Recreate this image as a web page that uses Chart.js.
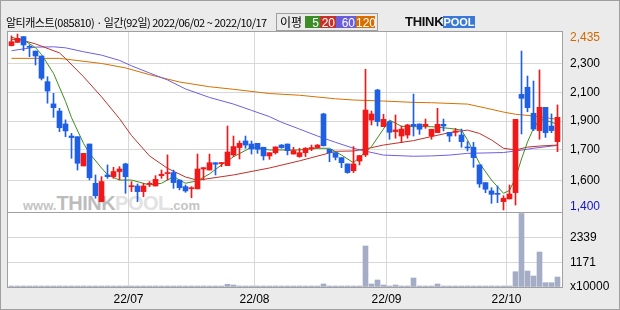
<!DOCTYPE html>
<html>
<head>
<meta charset="utf-8">
<script src="https://cdn.jsdelivr.net/npm/chart.js@4.4.0/dist/chart.umd.min.js"></script>
<style>
  body { margin: 0; background: #ebebeb; }
  #wrap { position: relative; width: 620px; height: 310px; background: #ebebeb; overflow: hidden; }
  #plotbg { position: absolute; left: 7px; top: 31px; width: 555px; height: 256px; background: #fff; }
  #wm { position: absolute; left: 23px; top: 192px; font-family: "Liberation Sans", sans-serif; font-weight: bold; white-space: nowrap; }
  #wm .s { font-size: 13px; color: #c4c4c4; }
  #wm .b1 { font-size: 20px; color: #bcbcbc; letter-spacing: -0.5px; }
  #wm .b2 { font-size: 20px; color: #e2e2e2; letter-spacing: -0.5px; }
  #c { position: absolute; left: 0; top: 0; }
  #title { position: absolute; left: 6px; top: 14px; line-height: 16px; font-size: 11px; letter-spacing: -0.5px;
           font-family: "Noto Sans CJK KR", sans-serif; color: #000; white-space: nowrap; }
  #mabox { position: absolute; left: 276px; top: 13px; width: 102px; height: 18px; box-sizing: border-box;
           border: 1px solid #9f9f9f; font-family: "Noto Sans CJK KR", sans-serif; }
  #mabox .lbl { position: absolute; left: 3px; top: 0; line-height: 16px; font-size: 12px; }
  #mabox .k { position: absolute; top: 2px; height: 12px; line-height: 12px; color: #fff; text-align: right;
              font: 12px "Liberation Sans", sans-serif; padding-right: 1px; box-sizing: border-box; }
  #logo { position: absolute; left: 405px; top: 14px; height: 15px; font-family: "Liberation Sans", sans-serif; font-weight: bold; }
  #logo .t { position: absolute; left: 0; top: 1px; font-size: 13px; line-height: 14px; color: #111; letter-spacing: -0.3px; }
  #logo .p { position: absolute; left: 38px; top: 2px; width: 32px; height: 12px; line-height: 12px; font-size: 11px;
             color: #fff; background: #3a78d8; text-align: center; }
  #frame { position: absolute; left: 0; top: 0; width: 620px; height: 310px; box-sizing: border-box; border: 1px solid #a0a0a0; pointer-events: none; }
</style>
</head>
<body>
<div id="wrap">
  <div id="plotbg"></div>
  <div id="wm"><span class="s">www.</span><span class="b1">THINK</span><span class="b2">POOL</span><span class="s">.com</span></div>
  <canvas id="c" width="620" height="310"></canvas>
  <div id="title">알티캐스트(085810) · 일간(92일) 2022/06/02 ~ 2022/10/17</div>
  <div id="mabox">
    <span class="lbl">이평</span>
    <span class="k" style="left:28px;width:15px;background:#3c8c28">5</span>
    <span class="k" style="left:43px;width:16px;background:#c4322a">20</span>
    <span class="k" style="left:59px;width:20px;background:#6b5fd9">60</span>
    <span class="k" style="left:79px;width:19px;background:#d86e00">120</span>
  </div>
  <div id="logo"><span class="t">THINK</span><span class="p">POOL</span></div>
  <div id="frame"></div>
</div>
<script>
// ======= DADOS (92 dias, 2022/06/02 ~ 2022/10/17) =======
const opens = [2367, 2386, 2420, 2361, 2335, 2306, 2155, 2024, 1982, 1906,
  1835, 1831, 1659, 1788, 1557, 1449, 1606, 1596, 1626, 1671,
  1537, 1541, 1508, 1551, 1541, 1602, 1614, 1620, 1576, 1537,
  1525, 1524, 1641, 1635, 1678, 1673, 1661, 1724, 1767, 1806,
  1788, 1792, 1769, 1718, 1737, 1782, 1788, 1729, 1714, 1737,
  1759, 1767, 1965, 1757, 1737, 1708, 1671, 1631, 1688, 1724,
  1929, 2106, 1890, 1920, 1861, 1835, 1841, 1904, 1906, 1894,
  1835, 1855, 1904, 1857, 1857, 1841, 1771, 1769, 1665, 1561,
  1512, 1498, 1449, 1465, 1502, 2080, 2122, 1969, 1867, 2004,
  1894, 1802];
const highs = [2424, 2435, 2420, 2371, 2335, 2306, 2184, 2086, 1998, 1930,
  1851, 1831, 1733, 1788, 1606, 1596, 1665, 1651, 1655, 1675,
  1567, 1553, 1557, 1567, 1602, 1635, 1724, 1635, 1576, 1547,
  1537, 1729, 1649, 1729, 1678, 1680, 1894, 1835, 1806, 1835,
  1806, 1792, 1769, 1737, 1771, 1785, 1788, 1769, 1763, 1767,
  1782, 1785, 1969, 1757, 1737, 1708, 1671, 1773, 1720, 2228,
  1982, 2110, 1963, 1920, 1959, 1894, 1904, 2082, 1906, 1935,
  1875, 1998, 1935, 1857, 1880, 1876, 1802, 1798, 1665, 1561,
  1531, 1541, 1484, 1547, 1933, 2335, 2188, 2159, 2224, 2004,
  1965, 2018];
const lows = [2365, 2386, 2337, 2302, 2253, 2165, 2028, 1945, 1861, 1831,
  1704, 1635, 1659, 1577, 1469, 1448, 1586, 1586, 1577, 1498,
  1508, 1449, 1478, 1537, 1541, 1586, 1577, 1527, 1518, 1504,
  1472, 1524, 1577, 1635, 1606, 1655, 1661, 1714, 1700, 1763,
  1729, 1733, 1694, 1698, 1729, 1763, 1724, 1729, 1710, 1714,
  1749, 1763, 1776, 1684, 1694, 1649, 1616, 1620, 1665, 1714,
  1900, 1894, 1890, 1816, 1822, 1796, 1822, 1835, 1845, 1880,
  1816, 1855, 1865, 1802, 1835, 1769, 1747, 1651, 1533, 1502,
  1439, 1443, 1400, 1465, 1429, 1847, 1978, 1867, 1816, 1827,
  1855, 1743];
const closes = [2390, 2410, 2371, 2357, 2306, 2175, 2100, 2002, 1884, 1865,
  1826, 1675, 1733, 1590, 1484, 1567, 1596, 1626, 1641, 1596,
  1541, 1508, 1541, 1557, 1580, 1610, 1620, 1561, 1531, 1512,
  1531, 1641, 1649, 1678, 1669, 1678, 1741, 1773, 1792, 1782,
  1759, 1757, 1718, 1737, 1771, 1767, 1749, 1749, 1737, 1763,
  1767, 1782, 1778, 1737, 1710, 1678, 1620, 1671, 1720, 1988,
  1965, 1920, 1933, 1857, 1871, 1876, 1900, 1894, 1875, 1904,
  1875, 1904, 1894, 1835, 1865, 1802, 1765, 1708, 1553, 1522,
  1492, 1492, 1469, 1494, 1933, 2057, 2002, 1876, 2004, 1855,
  1867, 1945];
// volume, x10000
const volumes = [48, 48, 48, 48, 48, 48, 48, 48, 48, 48,
  48, 48, 48, 48, 48, 48, 48, 48, 48, 48,
  48, 48, 48, 48, 48, 48, 48, 48, 48, 48,
  48, 48, 48, 48, 48, 48, 129, 95, 48, 48,
  48, 48, 48, 48, 48, 48, 48, 48, 48, 48,
  48, 48, 143, 48, 48, 48, 48, 48, 48, 1957,
  143, 334, 95, 48, 95, 48, 48, 430, 48, 48,
  48, 143, 48, 48, 48, 48, 48, 48, 48, 48,
  48, 48, 48, 48, 730, 3508, 764, 525, 1670, 205,
  205, 477];

// medias moveis (dia, valor)
const ma5Days = [0, 2, 4, 5, 7, 9, 10, 12, 13, 15, 16, 18, 20, 23, 25, 27, 29, 31, 33, 35, 37, 40, 43, 48, 51, 53, 55, 57, 59, 60, 63, 65, 67, 70, 73, 75, 76, 78, 80, 82, 83, 84, 85, 86, 87, 88, 89, 90, 91];
const ma5Vals = [2404, 2400, 2355, 2315, 2204, 2039, 1943, 1792, 1733, 1647, 1607, 1576, 1576, 1547, 1557, 1596, 1557, 1572, 1612, 1665, 1713, 1769, 1753, 1753, 1763, 1763, 1723, 1678, 1741, 1773, 1929, 1892, 1890, 1890, 1880, 1870, 1812, 1675, 1576, 1498, 1515, 1588, 1700, 1800, 1880, 1930, 1930, 1915, 1905];
const ma20Days = [0, 4, 8, 9, 12, 15, 18, 20, 23, 26, 29, 31, 37, 43, 48, 54, 57, 59, 62, 67, 70, 73, 76, 78, 80, 82, 84, 86, 88, 91];
const ma20Vals = [2416, 2377, 2324, 2291, 2184, 2066, 1937, 1838, 1718, 1645, 1594, 1575, 1606, 1647, 1689, 1745, 1747, 1759, 1782, 1808, 1832, 1855, 1870, 1850, 1812, 1763, 1753, 1770, 1776, 1782];
const ma60Days = [0, 4, 7, 9, 12, 15, 18, 20, 23, 26, 29, 33, 37, 40, 43, 45, 48, 51, 54, 57, 59, 62, 67, 70, 73, 76, 82, 84, 87, 91];
const ma60Vals = [2337, 2358, 2360, 2354, 2331, 2311, 2280, 2248, 2206, 2165, 2112, 2062, 2023, 1986, 1949, 1916, 1876, 1835, 1798, 1763, 1746, 1723, 1716, 1718, 1723, 1733, 1738, 1747, 1763, 1780];
const ma120Days = [0, 8, 15, 19, 23, 28, 33, 37, 43, 48, 54, 57, 62, 67, 70, 76, 79, 82, 84, 87, 91];
const ma120Vals = [2292, 2292, 2262, 2236, 2196, 2153, 2125, 2110, 2085, 2075, 2054, 2047, 2041, 2033, 2031, 2023, 2000, 1976, 1963, 1953, 1933];

// eixos
const monthStart = [20, 41, 63, 83];
const monthLabels = ["22/07", "22/08", "22/09", "22/10"];
const priceTicks = [1419, 1572, 1753, 1923, 2092, 2263, 2413];
const priceLabels = ["1,400", "1,600", "1,700", "1,900", "2,100", "2,300", "2,435"];
const volTicks = [0, 1171, 2339];
const volLabels = ["x10000", "1171", "2339"];

// ======= CORES =======
const RED = "#f01818", BLUE = "#1f5fe3";
const candleCol = closes.map((c, i) => (c >= opens[i] ? RED : BLUE));
const GRID = "#d8d8d8";

Chart.defaults.font.family = "'Liberation Sans', sans-serif";
Chart.defaults.font.size = 12;
Chart.defaults.color = "#000";

function linha(dias, vals, cor) {
  return {
    type: "line",
    data: dias.map((d, k) => ({ x: d, y: vals[k] })),
    borderColor: cor,
    borderWidth: 1,
    pointRadius: 0,
    tension: 0,
    yAxisID: "y",
  };
}

// moldura + divisoria entre preco e volume
const moldura = {
  id: "moldura",
  afterDraw(chart) {
    const { ctx, chartArea } = chart;
    const yv = chart.scales.yv;
    ctx.save();
    ctx.strokeStyle = "#a0a0a0";
    ctx.lineWidth = 1;
    ctx.strokeRect(chartArea.left + 0.5, chartArea.top + 0.5, chartArea.right - chartArea.left, chartArea.bottom - chartArea.top);
    ctx.beginPath();
    ctx.moveTo(chartArea.left, Math.round(yv.top) + 0.5);
    ctx.lineTo(chartArea.right, Math.round(yv.top) + 0.5);
    ctx.stroke();
    ctx.restore();
  },
};

new Chart(document.getElementById("c"), {
  type: "bar",
  data: {
    datasets: [
      {
        data: opens.map((o, i) => ({ x: i, y: [o, closes[i]] })),
        backgroundColor: candleCol,
        barThickness: 5,
        minBarLength: 1,
        grouped: false,
        yAxisID: "y",
      },
      {
        data: lows.map((l, i) => ({ x: i, y: [l, highs[i]] })),
        backgroundColor: candleCol,
        barThickness: 1,
        grouped: false,
        yAxisID: "y",
      },
      {
        data: volumes.map((v, i) => ({ x: i, y: v })),
        backgroundColor: "#a5adc6",
        barThickness: 5,
        minBarLength: 1,
        grouped: false,
        yAxisID: "yv",
      },
      linha(ma5Days, ma5Vals, "#3c8c1e"),
      linha(ma20Days, ma20Vals, "#c0302a"),
      linha(ma60Days, ma60Vals, "#6e5fe0"),
      linha(ma120Days, ma120Vals, "#d87000"),
    ],
  },
  options: {
    responsive: false,
    animation: false,
    devicePixelRatio: 1,
    layout: { padding: { left: 7, top: 31, right: 0, bottom: 0 } },
    plugins: { legend: { display: false }, tooltip: { enabled: false } },
    scales: {
      x: {
        type: "linear",
        offset: false,
        min: -0.75,
        max: 91.75,
        afterBuildTicks: (s) => { s.ticks = monthStart.map((d) => ({ value: d - 0.5 })); },
        afterFit: (s) => { s.height = 23; },
        ticks: { callback: (v, i) => monthLabels[i], padding: 5, autoSkip: false, maxRotation: 0 },
        grid: { color: GRID, drawTicks: false, offset: false },
        border: { display: false },
      },
      y: {
        type: "linear",
        position: "right",
        stack: "painel",
        stackWeight: 181,
        min: 1388,
        max: 2453,
        afterBuildTicks: (s) => { s.ticks = priceTicks.map((v) => ({ value: v })); },
        afterFit: (s) => { s.width = 58; },
        ticks: {
          callback: (v, i) => priceLabels[i],
          color: (c) => (c.index === priceLabels.length - 1 ? "#d06a00" : c.index === 0 ? "#1414c8" : "#000"),
          padding: 8,
          autoSkip: false,
        },
        grid: {
          color: (c) => (c.index === 0 || c.index === priceTicks.length - 1 ? "rgba(0,0,0,0)" : GRID),
          drawTicks: false,
        },
        border: { display: false },
      },
      yv: {
        type: "linear",
        position: "right",
        stack: "painel",
        stackWeight: 75,
        min: 0,
        max: 3580,
        afterBuildTicks: (s) => { s.ticks = volTicks.map((v) => ({ value: v })); },
        afterFit: (s) => { s.width = 58; },
        ticks: { callback: (v, i) => volLabels[i], padding: 8, autoSkip: false },
        grid: { color: (c) => (c.index === 0 ? "rgba(0,0,0,0)" : GRID), drawTicks: false },
        border: { display: false },
      },
    },
  },
  plugins: [moldura],
});
</script>
</body>
</html>
